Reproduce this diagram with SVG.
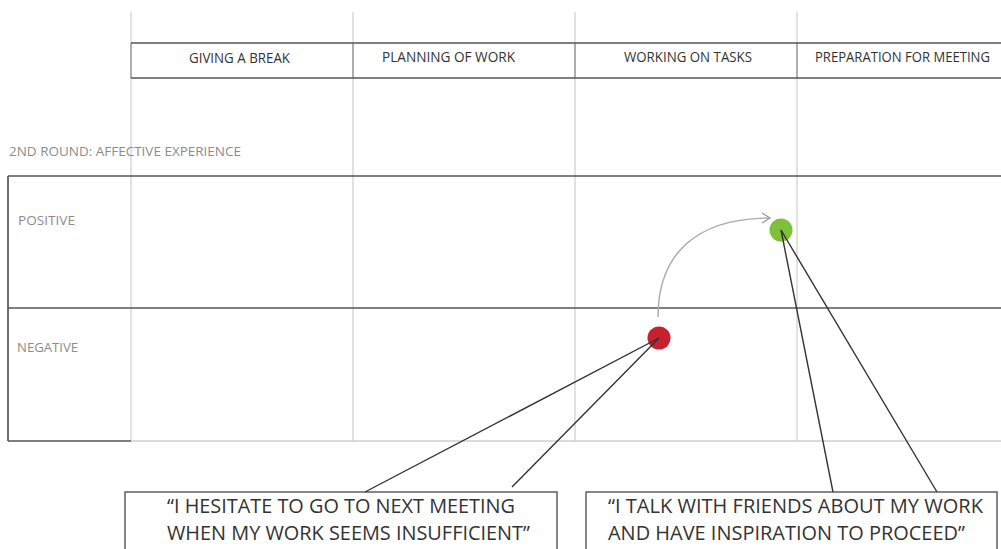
<svg xmlns="http://www.w3.org/2000/svg" width="1001" height="549" viewBox="0 0 1001 549">
<style>
.vgrid{stroke:#cfcfcf;stroke-width:1.2;fill:none}
.hdark{stroke:#555;stroke-width:1.7;fill:none}
.hdr{font-family:"Open Sans","Liberation Sans",sans-serif;font-size:14px;fill:#333}
.lbl{font-family:"Open Sans","Liberation Sans",sans-serif;font-size:13.5px;fill:#8c8c8c}
.quote{font-family:"Open Sans","Liberation Sans",sans-serif;font-size:19.5px;fill:#333}
.conn{stroke:#333;stroke-width:1.4;fill:none}
.box{stroke:#555;stroke-width:1.4;fill:#fff}
</style>
<defs>
<marker id="chev" markerWidth="12" markerHeight="12" refX="9" refY="6" orient="auto" markerUnits="userSpaceOnUse">
<path d="M1,1 L9,6 L1,11" fill="none" stroke="#999" stroke-width="1.2"/>
</marker>
</defs>
<rect width="1001" height="549" fill="#fff"/>
<g id="grid">
<line class="vgrid" x1="131" y1="12" x2="131" y2="441"/>
<line class="vgrid" x1="353" y1="12" x2="353" y2="441"/>
<line class="vgrid" x1="575" y1="12" x2="575" y2="441"/>
<line class="vgrid" x1="797" y1="12" x2="797" y2="441"/>
<line stroke="#999" stroke-width="1.4" x1="131" y1="43" x2="131" y2="78"/>
<line stroke="#999" stroke-width="1.4" x1="353" y1="43" x2="353" y2="78"/>
<line stroke="#999" stroke-width="1.4" x1="575" y1="43" x2="575" y2="78"/>
<line stroke="#999" stroke-width="1.4" x1="797" y1="43" x2="797" y2="78"/>
<line class="hdark" x1="131" y1="43" x2="1001" y2="43"/>
<line class="hdark" x1="131" y1="78" x2="1001" y2="78"/>
<line class="hdark" x1="8" y1="176" x2="1001" y2="176"/>
<line class="hdark" x1="8" y1="308" x2="1001" y2="308"/>
<line class="hdark" x1="8" y1="176" x2="8" y2="441"/>
<line class="hdark" x1="8" y1="441" x2="131" y2="441"/>
<line stroke="#cfcfcf" stroke-width="1.6" x1="131" y1="441" x2="1001" y2="441"/>
</g>
<g id="headers">
<text class="hdr" x="189" y="63" textLength="101" lengthAdjust="spacingAndGlyphs">GIVING A BREAK</text>
<text class="hdr" x="382" y="62" textLength="133" lengthAdjust="spacingAndGlyphs">PLANNING OF WORK</text>
<text class="hdr" x="624" y="62" textLength="128" lengthAdjust="spacingAndGlyphs">WORKING ON TASKS</text>
<text class="hdr" x="815" y="62" textLength="175" lengthAdjust="spacingAndGlyphs">PREPARATION FOR MEETING</text>
</g>
<g id="labels">
<text class="lbl" x="9" y="156" textLength="232" lengthAdjust="spacingAndGlyphs">2ND ROUND: AFFECTIVE EXPERIENCE</text>
<text class="lbl" x="18" y="225" textLength="57" lengthAdjust="spacingAndGlyphs">POSITIVE</text>
<text class="lbl" x="17" y="352" textLength="61" lengthAdjust="spacingAndGlyphs">NEGATIVE</text>
</g>
<g id="node-negative">
<circle cx="659" cy="338" r="11.5" fill="#c8202f"/>
</g>
<g id="node-positive">
<circle cx="781" cy="230" r="11.5" fill="#7fc03a"/>
</g>
<g id="quote-negative">
<rect class="box" x="125" y="492" width="432" height="70"/>
<text class="quote" x="167" y="513" textLength="348" lengthAdjust="spacingAndGlyphs">“I HESITATE TO GO TO NEXT MEETING</text>
<text class="quote" x="167" y="540" textLength="363" lengthAdjust="spacingAndGlyphs">WHEN MY WORK SEEMS INSUFFICIENT”</text>
</g>
<g id="quote-positive">
<rect class="box" x="586" y="492" width="411" height="70"/>
<text class="quote" x="608" y="513" textLength="375" lengthAdjust="spacingAndGlyphs">“I TALK WITH FRIENDS ABOUT MY WORK</text>
<text class="quote" x="608" y="540" textLength="357" lengthAdjust="spacingAndGlyphs">AND HAVE INSPIRATION TO PROCEED”</text>
</g>
<g id="connectors">
<path d="M658,317 C658,255 695,218 770,218" stroke="#aaa" stroke-width="1.4" fill="none" marker-end="url(#chev)"/>
<line class="conn" x1="659" y1="338" x2="365" y2="492"/>
<line class="conn" x1="659" y1="338" x2="512" y2="487"/>
<line class="conn" x1="781" y1="230" x2="833" y2="492"/>
<line class="conn" x1="781" y1="230" x2="937" y2="492"/>
</g>
</svg>
